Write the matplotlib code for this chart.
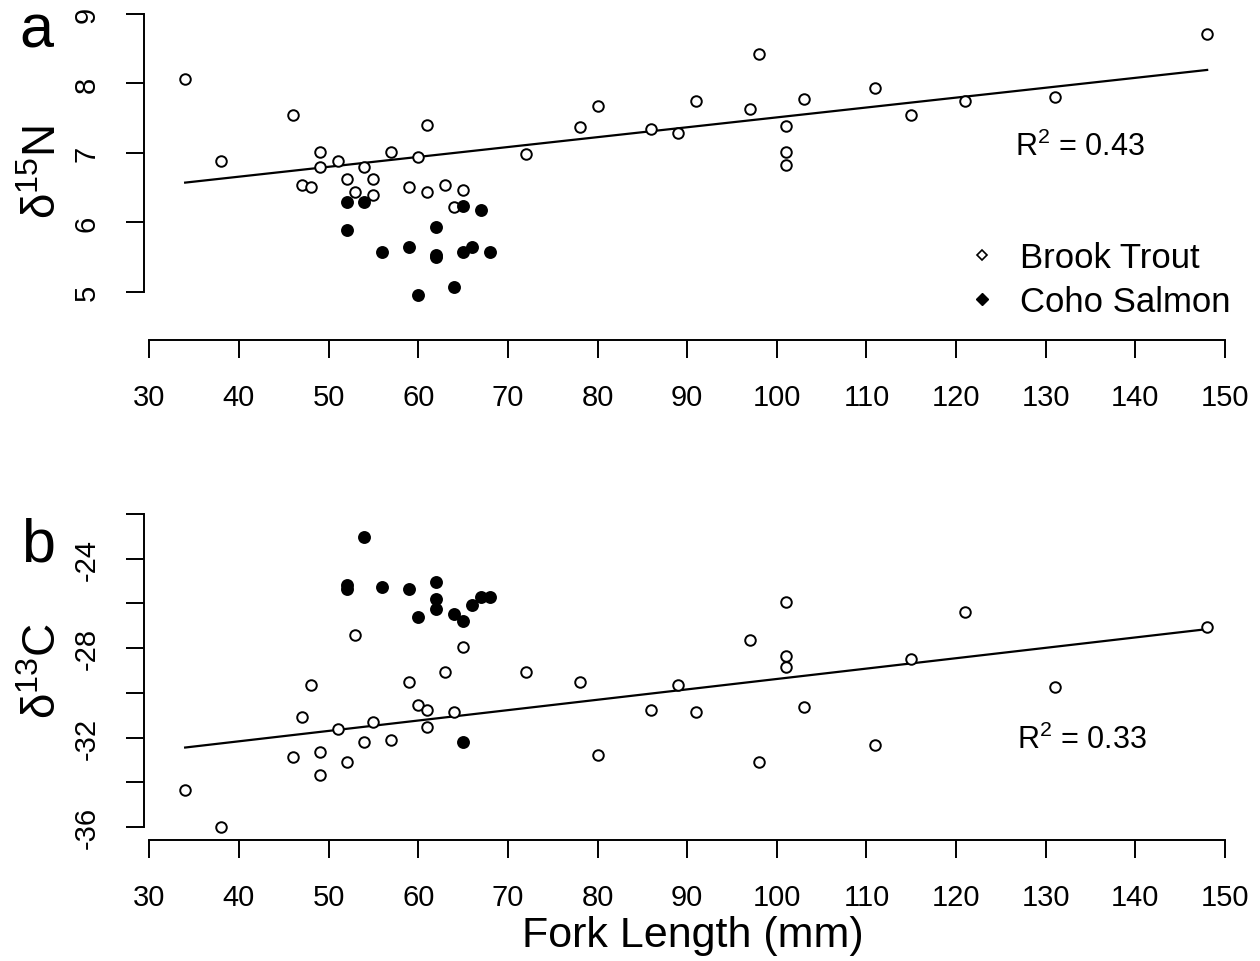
import numpy as np
import matplotlib
matplotlib.use("Agg")
import matplotlib.pyplot as plt
from matplotlib.lines import Line2D

plt.rcParams['font.family'] = ['Liberation Sans', 'DejaVu Sans']
plt.rcParams['mathtext.fontset'] = 'custom'
plt.rcParams['mathtext.rm'] = 'Liberation Sans'
plt.rcParams['mathtext.it'] = 'Liberation Sans:italic'

# brook trout, panel a
bt_len_a = [34, 38, 46, 47, 48, 49, 49, 51, 52, 53, 54, 55, 55, 57, 59, 60, 61, 61, 63, 64,
            65, 72, 78, 80, 86, 89, 91, 97, 98, 101, 101, 101, 103, 111, 115, 121, 131, 148]
bt_n15 = [8.06, 6.88, 7.55, 6.54, 6.51, 7.01, 6.80, 6.88, 6.62, 6.44, 6.80, 6.62, 6.40, 7.01,
          6.51, 6.94, 6.44, 7.40, 6.54, 6.22, 6.47, 6.98, 7.37, 7.67, 7.34, 7.29, 7.74, 7.63,
          8.42, 7.38, 7.02, 6.83, 7.77, 7.94, 7.55, 7.74, 7.81, 8.71]

# brook trout, panel b
bt_len_b = [34, 38, 46, 47, 48, 49, 49, 51, 52, 53, 54, 55, 57, 59, 60, 61, 61, 63, 64, 65,
            72, 78, 80, 86, 89, 91, 97, 98, 101, 101, 101, 103, 111, 115, 121, 131, 148]
bt_c13 = [-34.35, -36.0, -32.87, -31.08, -29.65, -32.65, -33.67, -31.62, -33.09, -27.41,
          -32.20, -31.30, -32.11, -29.52, -30.54, -30.77, -31.53, -29.07, -30.86, -27.95,
          -29.07, -29.52, -32.78, -30.77, -29.65, -30.86, -27.64, -33.09, -25.94, -28.35,
          -28.84, -30.63, -32.33, -28.49, -26.38, -29.74, -27.06]

# coho salmon
coho_len = [52, 52, 54, 56, 59, 60, 62, 62, 62, 64, 65, 65, 66, 67, 68]
coho_n15 = [6.30, 5.89, 6.30, 5.58, 5.65, 4.96, 5.94, 5.53, 5.50, 5.07, 6.23, 5.58, 5.65, 6.18, 5.58]
coho_c13 = [-25.18, -25.36, -23.03, -25.27, -25.36, -26.61, -25.04, -25.80, -26.25, -26.47,
            -26.79, -32.20, -26.07, -25.71, -25.71]

r2_a = 0.43
r2_b = 0.33

W, H = 1260, 962
fig = plt.figure(figsize=(W / 100, H / 100), dpi=100)


def px(x, y):
    return x / W, 1 - y / H


def style_axes(ax, xlim, ylim, ybounds, yticks, ylabels):
    ax.set_xlim(*xlim)
    ax.set_ylim(*ylim)
    for s in ['top', 'right']:
        ax.spines[s].set_visible(False)
    ax.spines['bottom'].set_bounds(30, 150)
    ax.spines['left'].set_bounds(*ybounds)
    for s in ['bottom', 'left']:
        ax.spines[s].set_linewidth(1.4)
    ax.set_xticks(np.arange(30, 151, 10))
    ax.set_yticks(yticks)
    ax.set_yticklabels(ylabels, rotation=90, va='center')
    ax.tick_params(direction='out', length=13, width=1.4, labelsize=21, pad=18)
    ax.patch.set_alpha(0)


def draw_panel(ax, lx, ly, cx, cy, r2, r2_pos):
    lx = np.array(lx)
    ly = np.array(ly)
    b, a = np.polyfit(lx, ly, 1)
    xx = np.array([lx.min(), lx.max()])
    ax.plot(xx, a + b * xx, color='black', lw=1.6, zorder=2)
    ax.plot(lx, ly, 'o', ms=7.6, mfc='white', mec='black', mew=1.4, ls='none', zorder=3)
    ax.plot(cx, cy, 'o', ms=9.3, mfc='black', mec='black', mew=0, ls='none', zorder=4)
    ax.text(r2_pos[0], r2_pos[1], 'R$^{\\mathregular{2}}$ = %.2f' % r2, fontsize=22,
            ha='left', va='center')


ax1 = fig.add_axes([144 / W, 1 - 341 / H, (1250 - 144) / W, 331 / H])
style_axes(ax1, (29.41, 152.78), (4.309, 9.07), (5, 9), [5, 6, 7, 8, 9],
           ['5', '6', '7', '8', '9'])
draw_panel(ax1, bt_len_a, bt_n15, coho_len, coho_n15, r2_a, (126.6, 7.1))

ax2 = fig.add_axes([144 / W, 1 - 841 / H, (1250 - 144) / W, 331 / H])
style_axes(ax2, (29.41, 152.78), (-36.58, -21.78), (-36, -22), np.arange(-36, -21, 2),
           ['-36', '', '-32', '', '-28', '', '-24', ''])
draw_panel(ax2, bt_len_b, bt_c13, coho_len, coho_c13, r2_b, (126.8, -32.06))

handles = [Line2D([], [], marker='D', ls='none', ms=5.5, mfc='white', mec='black', mew=1.2),
           Line2D([], [], marker='D', ls='none', ms=6.5, mfc='black', mec='black')]
ax1.legend(handles, ['Brook Trout', 'Coho Salmon'], loc='upper left',
           bbox_to_anchor=px(968, 242), bbox_transform=fig.transFigure,
           frameon=False, fontsize=25, handlelength=0.8, handletextpad=0.7,
           labelspacing=0.32, borderpad=0, borderaxespad=0)

fig.text(*px(36, 47), 'a', fontsize=44, ha='center', va='baseline')
fig.text(*px(38, 562), 'b', fontsize=44, ha='center', va='baseline')
fig.text(*px(44, 172), 'δ$^{\\mathregular{15}}$N', fontsize=33, rotation=90,
         ha='center', va='center')
fig.text(*px(44, 671), 'δ$^{\\mathregular{13}}$C', fontsize=33, rotation=90,
         ha='center', va='center')
fig.text(*px(693, 947), 'Fork Length (mm)', fontsize=31, ha='center', va='baseline')

fig.savefig('out.png', dpi=100)
